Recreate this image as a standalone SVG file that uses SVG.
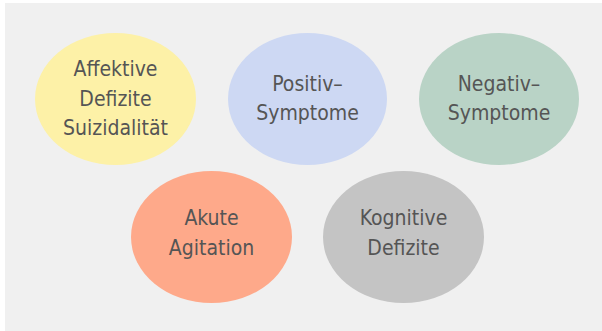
<svg xmlns="http://www.w3.org/2000/svg" width="602" height="331" viewBox="0 0 602 331">
  <style>
    .lbl { font-family: "DejaVu Sans Condensed", "DejaVu Sans", sans-serif; font-stretch: condensed; font-size: 21px; fill: #555555; text-anchor: middle; }
  </style>
  <rect x="5" y="3" width="597" height="328" fill="#f0f0f0"/>
  <g id="affektive-defizite">
    <ellipse cx="115.5" cy="99" rx="80.5" ry="66" fill="#fdf1a7"/>
    <text class="lbl" x="115.5" y="76">Affektive</text>
    <text class="lbl" x="115.5" y="105.7">Defizite</text>
    <text class="lbl" x="115.5" y="135">Suizidalität</text>
  </g>
  <g id="positiv-symptome">
    <ellipse cx="307.5" cy="99" rx="79.5" ry="66" fill="#cdd8f3"/>
    <text class="lbl" x="307.5" y="91">Positiv–</text>
    <text class="lbl" x="307.5" y="120">Symptome</text>
  </g>
  <g id="negativ-symptome">
    <ellipse cx="499" cy="99" rx="80" ry="66" fill="#b9d3c6"/>
    <text class="lbl" x="499" y="91">Negativ–</text>
    <text class="lbl" x="499" y="120">Symptome</text>
  </g>
  <g id="akute-agitation">
    <ellipse cx="211.5" cy="237" rx="80.5" ry="66" fill="#fea98a"/>
    <text class="lbl" x="211.5" y="225">Akute</text>
    <text class="lbl" x="211.5" y="255">Agitation</text>
  </g>
  <g id="kognitive-defizite">
    <ellipse cx="403.5" cy="237" rx="80.5" ry="66" fill="#c4c4c4"/>
    <text class="lbl" x="403.5" y="225">Kognitive</text>
    <text class="lbl" x="403.5" y="255">Defizite</text>
  </g>
  <g id="connectors"></g>
</svg>
